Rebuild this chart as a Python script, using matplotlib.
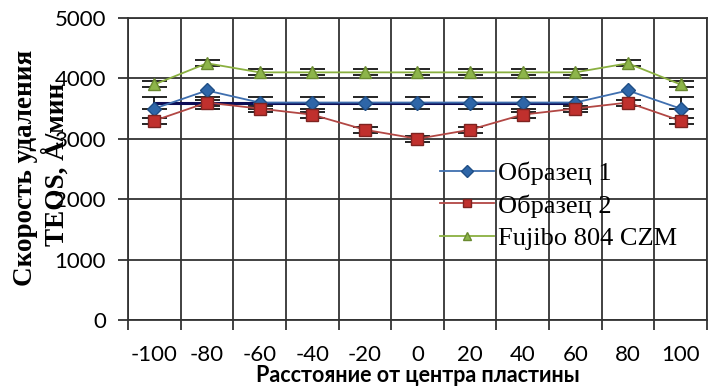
import numpy as np
import matplotlib
matplotlib.use('Agg')
from matplotlib import pyplot as plt

# данные
pos = [-100, -80, -60, -40, -20, 0, 20, 40, 60, 80, 100]
obr1 = [3500, 3800, 3600, 3600, 3600, 3600, 3600, 3600, 3600, 3800, 3500]
obr2 = [3300, 3600, 3500, 3400, 3150, 3000, 3150, 3400, 3500, 3600, 3300]
fuji = [3900, 4250, 4100, 4100, 4100, 4100, 4100, 4100, 4100, 4250, 3900]
err2 = [50] * 11
err3 = [50] * 11
mean_line = [3600] * 9  # от -100 до 60
err_mean = [100] * 9

x = np.arange(len(pos))

fig = plt.figure(figsize=(7.14, 3.87), dpi=100)
ax = fig.add_axes([0.1793, 0.1731, 0.8107, 0.7804])

grid_c = '#333333'
# сетка
for b in np.arange(-0.5, len(pos), 1.0):
    ax.axvline(b, color=grid_c, lw=1.3, zorder=1)
for yv in range(0, 5001, 1000):
    ax.axhline(yv, color=grid_c, lw=1.3, zorder=1)

# средняя линия с погрешностью
ax.errorbar(x[:9], mean_line, yerr=err_mean, color='#0d0d55', lw=2.2,
            ecolor='black', elinewidth=1.2, capsize=9, capthick=1.2, zorder=3)
ax.errorbar([x[10]], [3600], yerr=[100], fmt='none', ecolor='black',
            elinewidth=1.2, capsize=9, capthick=1.2, zorder=3)

ax.errorbar(x, obr2, yerr=err2, fmt='none', ecolor='black', elinewidth=1.0,
            capsize=9, capthick=1.2, zorder=3)
ax.errorbar(x, fuji, yerr=err3, fmt='none', ecolor='black', elinewidth=1.0,
            capsize=9, capthick=1.2, zorder=3)

ax.plot(x, obr1, color='#3F6FAF', lw=1.3, marker='D', ms=7.5,
        mfc='#2E66A8', mec='#1F4E85', label='Образец 1', zorder=4)
ax.plot(x, obr2, color='#B24744', lw=1.3, marker='s', ms=9,
        mfc='#C0302D', mec='#7E2320', label='Образец 2', zorder=4)
ax.plot(x, fuji, color='#8AB040', lw=1.3, marker='^', ms=9,
        mfc='#8DB54A', mec='#6A8A30', label='Fujibo 804 CZM', zorder=4)

ax.set_xlim(-0.5, len(pos) - 0.5)
ax.set_ylim(0, 5000)

for s in ax.spines.values():
    s.set_color(grid_c)
    s.set_linewidth(1.3)

# подписи оси X по центрам категорий, штрихи по границам
ax.set_xticks(np.arange(-0.5, len(pos), 1.0))
ax.set_xticklabels([])
ax.tick_params(axis='x', which='major', length=7, width=1.3, color=grid_c, direction='out')
ax.set_xticks(x, minor=True)
ax.set_xticklabels([str(p) for p in pos], minor=True,
                   fontfamily='Lato', fontsize=16)
ax.tick_params(axis='x', which='minor', length=0, pad=18)

ax.set_yticks(range(0, 5001, 1000))
ax.set_yticklabels([str(v) for v in range(0, 5001, 1000)],
                   fontfamily='Lato', fontsize=16)
ax.tick_params(axis='y', length=7, width=1.3, color=grid_c, pad=9)

ax.set_xlabel('Расстояние от центра пластины', fontfamily='Lato',
              fontweight='bold', fontsize=15.5, labelpad=0)

fig.text(0.036, 0.566, 'Скорость удаления', rotation=90, ha='center', va='center',
         fontfamily='Liberation Serif', fontweight='bold', fontsize=19.5)
fig.text(0.079, 0.574, 'TEOS, Å/мин', rotation=90, ha='center', va='center',
         fontfamily='Liberation Serif', fontweight='bold', fontsize=19.5)

leg = ax.legend(loc='upper left', bbox_to_anchor=(0.539, 0.525), frameon=False,
                prop={'family': 'Liberation Serif', 'size': 19},
                handlelength=2.05, handletextpad=0.15, labelspacing=0.35,
                borderaxespad=0, borderpad=0)
for h in leg.legend_handles:
    h.set_markersize(6)

fig.savefig('out.png', dpi=100)
